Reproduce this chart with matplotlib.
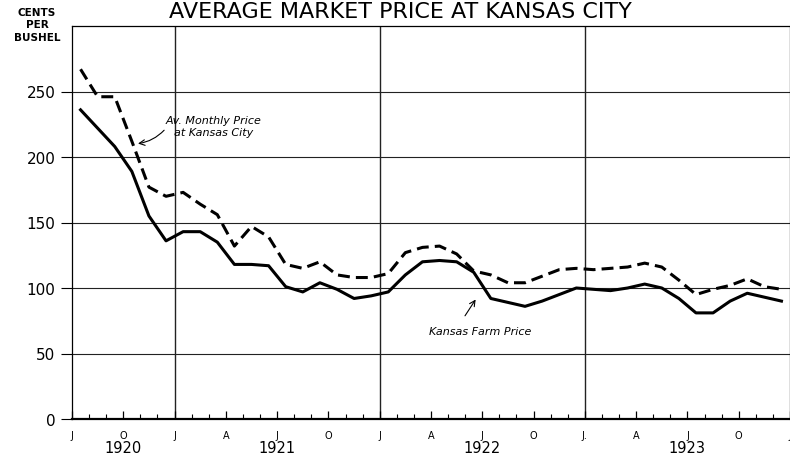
import numpy as np
import matplotlib
matplotlib.use("Agg")
import matplotlib.pyplot as plt
from matplotlib.ticker import MultipleLocator

# monthly prices, July 1920 - December 1923 (cents per bushel)
farm_price = [236, 222, 208, 189, 155, 136, 143, 143, 135, 118, 118, 117,
              101, 97, 104, 99, 92, 94, 97, 110, 120, 121, 120, 112,
              92, 89, 86, 90, 95, 100, 99, 98, 100, 103, 100, 92,
              81, 81, 90, 96, 93, 90]
kc_price = [267, 246, 246, 212, 177, 170, 173, 164, 156, 132, 147, 139,
            118, 115, 120, 110, 108, 108, 111, 127, 131, 132, 126, 113,
            110, 104, 104, 109, 114, 115, 114, 115, 116, 119, 116, 106,
            95, 99, 102, 107, 101, 99]

quarter_labels = ["J", "O", "J", "A", "J", "O", "J", "A", "J", "O", "J.", "A", "J", "O", "J"]
years = ["1920", "1921", "1922", "1923"]
year_pos = [3, 12, 24, 36]

fig = plt.figure(figsize=(7.9, 4.6), dpi=100)
ax = fig.add_axes([72 / 790, 40 / 460, 718 / 790, 393 / 460])

x = np.arange(len(farm_price)) + 0.5
ax.plot(x, farm_price, color="black", lw=2.2, solid_joinstyle="round")
ax.plot(x, kc_price, color="black", lw=2.2, dashes=(3.9, 2.0))

ax.set_xlim(0, 42)
ax.set_ylim(0, 300)

# grid
for v in [50, 100, 150, 200, 250]:
    ax.axhline(v, color="#222222", lw=0.8, zorder=0)
for m in [6, 18, 30]:
    ax.axvline(m, color="#222222", lw=1.0, zorder=0)

for s in ["top", "right", "left"]:
    ax.spines[s].set_linewidth(0.9)
ax.spines["bottom"].set_linewidth(1.6)

ax.set_yticks([0, 50, 100, 150, 200, 250])
ax.tick_params(axis="y", direction="out", length=8, width=0.8, labelsize=11, pad=4)

ax.set_xticks(np.arange(0, 43, 3))
ax.set_xticklabels(quarter_labels)
ax.xaxis.set_minor_locator(MultipleLocator(1))
ax.tick_params(axis="x", which="major", direction="in", length=6, width=0.9, labelsize=7, pad=8)
ax.tick_params(axis="x", which="minor", direction="in", length=3.5, width=0.8)

for yr, p in zip(years, year_pos):
    ax.text(p, -0.072, yr, transform=ax.get_xaxis_transform(), ha="center", va="center", fontsize=10.5)

# annotations
ax.text(5.45, 228, "Av. Monthly Price", fontsize=8, style="italic", ha="left", va="center")
ax.text(5.95, 219, "at Kansas City", fontsize=8, style="italic", ha="left", va="center")
ax.annotate("", xy=(3.7, 210), xytext=(5.5, 222),
            arrowprops=dict(arrowstyle="->", color="black", lw=0.8, connectionstyle="arc3,rad=-0.2"))
ax.text(20.9, 67, "Kansas Farm Price", fontsize=8, style="italic", ha="left", va="center")
ax.annotate("", xy=(23.7, 93), xytext=(22.9, 77),
            arrowprops=dict(arrowstyle="->", color="black", lw=0.8))

fig.text(400 / 790, 1 - 18 / 460, "AVERAGE MARKET PRICE AT KANSAS CITY", ha="center", va="baseline", fontsize=16)
fig.text(37 / 790, 1 - 13 / 460, "CENTS", ha="center", va="center", fontsize=7.5, fontweight="bold")
fig.text(37 / 790, 1 - 25 / 460, "PER", ha="center", va="center", fontsize=7.5, fontweight="bold")
fig.text(37 / 790, 1 - 38 / 460, "BUSHEL", ha="center", va="center", fontsize=7.5, fontweight="bold")

fig.savefig("out.png", dpi=100)
